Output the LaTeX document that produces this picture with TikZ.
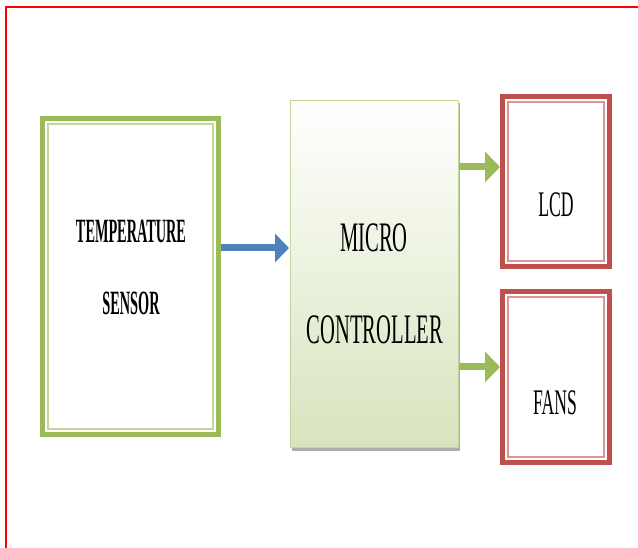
\documentclass[tikz,border=0pt]{standalone}
\usepackage{fontspec}
\setmainfont{Liberation Serif}
\newfontfamily\condfont[FakeStretch=0.49]{Liberation Serif}
\newfontfamily\sensfont[FakeStretch=0.42]{Liberation Serif}
\usetikzlibrary{arrows.meta,shadows}
\definecolor{ogreen}{HTML}{9BBB59}
\definecolor{lgreen}{HTML}{C3D69B}
\definecolor{ored}{HTML}{C0504D}
\definecolor{pred}{HTML}{D99694}
\definecolor{oblue}{HTML}{4F81BD}
\definecolor{mcbottom}{HTML}{D7E4BD}
\tikzset{
  greenbox/.style={draw=ogreen, line width=5pt, fill=white, inner sep=0pt},
  redbox/.style={draw=ored, line width=5pt, fill=white, inner sep=0pt},
  mcbox/.style={draw=lgreen, line width=1pt, top color=white, bottom color=mcbottom,
    inner sep=0pt, drop shadow={shadow xshift=1pt, shadow yshift=-3pt, fill=black!40, opacity=0.8}},
  sensortxt/.style={font=\fontsize{34}{40}\sensfont\bfseries, inner sep=0pt},
  mctxt/.style={font=\fontsize{42}{48}\condfont, inner sep=0pt},
  outtxt/.style={font=\fontsize{36}{42}\condfont, inner sep=0pt},
  bluearr/.style={draw=oblue, line width=7pt, -{Triangle[length=14pt,width=28pt]}},
  greenarr/.style={draw=ogreen, line width=7pt, -{Triangle[length=15pt,width=30pt]}},
  innerg/.style={draw=lgreen, line width=1.3pt},
  innerr/.style={draw=pred, line width=1.3pt},
}
\begin{document}
\begin{tikzpicture}[x=1pt,y=-1pt]
\useasboundingbox (0,0) rectangle (638,548);
\clip (0,0) rectangle (638,548);
\fill[white] (0,0) rectangle (638,548);
% red frame
\draw[red, line width=2pt] (5.5,600) -- (5.5,7) -- (700,7);

% boxes
\node[greenbox, minimum width=176pt, minimum height=316pt] (s) at (130.5,276.5) {};
\draw[innerg] ([xshift=8pt,yshift=-8pt]s.north west) rectangle ([xshift=-8pt,yshift=8pt]s.south east);
\node[mcbox, minimum width=168pt, minimum height=347pt] (mc) at (374.5,274) {};
\node[redbox, minimum width=107pt, minimum height=170pt] (lcd) at (556,181.5) {};
\draw[innerr] ([xshift=8pt,yshift=-8pt]lcd.north west) rectangle ([xshift=-8pt,yshift=8pt]lcd.south east);
\node[redbox, minimum width=107pt, minimum height=171pt] (fans) at (556,377) {};
\draw[innerr] ([xshift=8pt,yshift=-8pt]fans.north west) rectangle ([xshift=-8pt,yshift=8pt]fans.south east);

% texts
\node[sensortxt] (t1) at (131,231) {TEMPERATURE};
\node[sensortxt] (t2) at (131,303) {SENSOR};
\node[mctxt] (t3) at (374,238) {MICRO};
\node[mctxt] (t4) at (375,330) {CONTROLLER};
\node[outtxt] (t5) at (556,205) {LCD};
\node[outtxt] (t6) at (555,403) {FANS};

% arrows
\coordinate (b1) at (0,248);
\coordinate (g1) at (0,167);
\coordinate (g2) at (0,367);
\draw[bluearr, shorten >=1pt] (s.east |- b1) -- (mc.west |- b1);
\draw[greenarr] (mc.east |- g1) -- (lcd.west |- g1);
\draw[greenarr] (mc.east |- g2) -- (fans.west |- g2);
\end{tikzpicture}
\end{document}
